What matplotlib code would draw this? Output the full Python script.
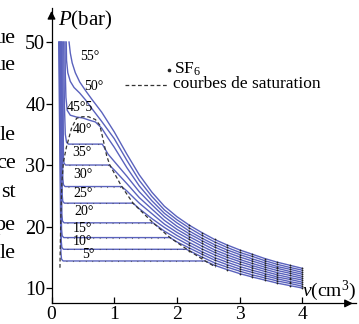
import numpy as np
import matplotlib
matplotlib.use("Agg")
import matplotlib.pyplot as plt

plt.rcParams["font.family"] = ["Liberation Serif", "DejaVu Serif"]
plt.rcParams["mathtext.fontset"] = "custom"
plt.rcParams["mathtext.rm"] = "Liberation Serif"
plt.rcParams["mathtext.it"] = "Liberation Serif:italic"

# SF6 isotherms: v in cm3, P in bar
V05 = [0.115, 0.150, 0.160, 0.185, 2.45, 2.6, 2.8, 3.0, 3.2, 3.4, 3.6, 3.8, 4.0]
P05 = [50, 15.8, 14.7, 14.4, 14.4, 13.7, 13.0, 12.35, 11.8, 11.3, 10.8, 10.4, 10.0]

V10 = [0.125, 0.155, 0.165, 0.19, 2.15, 2.2, 2.4, 2.6, 2.8, 3.0, 3.2, 3.4, 3.6, 3.8, 4.0]
P10 = [50, 17.7, 16.6, 16.3, 16.3, 16.05, 15.05, 14.1, 13.4, 12.75, 12.15, 11.65, 11.15, 10.75, 10.3]

V15 = [0.135, 0.16, 0.17, 0.195, 1.89, 2.0, 2.2, 2.4, 2.6, 2.8, 3.0, 3.2, 3.4, 3.6, 3.8, 4.0]
P15 = [50, 19.6, 18.5, 18.2, 18.2, 17.5, 16.5, 15.5, 14.55, 13.8, 13.1, 12.55, 12.0, 11.5, 11.05, 10.65]

V20 = [0.145, 0.165, 0.175, 0.2, 1.62, 1.8, 2.0, 2.2, 2.4, 2.6, 2.8, 3.0, 3.2, 3.4, 3.6, 3.8, 4.0]
P20 = [50, 22.0, 20.9, 20.6, 20.6, 19.25, 18.05, 16.95, 15.9, 14.95, 14.2, 13.5, 12.9, 12.35, 11.8, 11.4, 10.95]

V25 = [0.155, 0.17, 0.18, 0.205, 1.30, 1.4, 1.6, 1.8, 2.0, 2.2, 2.4, 2.6, 2.8, 3.0, 3.2, 3.4, 3.6, 3.8, 4.0]
P25 = [50, 25.2, 24.1, 23.8, 23.8, 22.9, 21.3, 19.85, 18.55, 17.4, 16.35, 15.4, 14.6, 13.9, 13.3, 12.7, 12.15, 11.7, 11.3]

V30 = [0.165, 0.18, 0.19, 0.215, 1.12, 1.2, 1.4, 1.6, 1.8, 2.0, 2.2, 2.4, 2.6, 2.8, 3.0, 3.2, 3.4, 3.6, 3.8, 4.0]
P30 = [50, 27.9, 26.8, 26.5, 26.5, 25.8, 23.8, 22.1, 20.4, 19.05, 17.9, 16.8, 15.8, 15.0, 14.3, 13.65, 13.05, 12.5, 12.05, 11.6]

V35 = [0.18, 0.19, 0.2, 0.225, 0.92, 1.0, 1.2, 1.4, 1.6, 1.8, 2.0, 2.2, 2.4, 2.6, 2.8, 3.0, 3.2, 3.4, 3.6, 3.8, 4.0]
P35 = [50, 31.4, 30.3, 30.0, 30.0, 29.2, 27.0, 24.7, 22.85, 21.0, 19.55, 18.35, 17.25, 16.2, 15.4, 14.65, 14.0, 13.4, 12.85, 12.4, 11.9]

V40 = [0.195, 0.205, 0.22, 0.24, 0.27, 0.81, 0.9, 1.0, 1.2, 1.4, 1.6, 1.8, 2.0, 2.2, 2.4, 2.6, 2.8, 3.0, 3.2, 3.4, 3.6, 3.8, 4.0]
P40 = [50, 40.0, 35.0, 33.7, 33.4, 33.4, 31.8, 30.6, 28.2, 25.65, 23.55, 21.6, 20.05, 18.8, 17.7, 16.65, 15.8, 15.05, 14.4, 13.75, 13.2, 12.7, 12.25]

V45 = [0.215, 0.22, 0.23, 0.25, 0.30, 0.40, 0.50, 0.60, 0.70, 0.80, 0.90, 1.0, 1.2, 1.4, 1.6, 1.8, 2.0, 2.2, 2.4, 2.6, 2.8, 3.0, 3.2, 3.4, 3.6, 3.8, 4.0]
P45 = [50, 45.0, 41.0, 38.9, 38.1, 37.8, 37.65, 37.3, 37.0, 36.0, 34.4, 32.9, 29.6, 26.6, 24.2, 22.15, 20.6, 19.25, 18.1, 17.05, 16.2, 15.45, 14.75, 14.1, 13.5, 13.05, 12.55]

V50 = [0.235, 0.24, 0.26, 0.30, 0.36, 0.45, 0.55, 0.65, 0.8, 0.9, 1.0, 1.2, 1.4, 1.6, 1.8, 2.0, 2.2, 2.4, 2.6, 2.8, 3.0, 3.2, 3.4, 3.6, 3.8, 4.0]
P50 = [50, 47.0, 45.0, 43.6, 42.6, 41.7, 40.5, 39.1, 37.1, 35.7, 34.3, 30.8, 27.5, 24.9, 22.7, 21.1, 19.75, 18.55, 17.5, 16.6, 15.8, 15.15, 14.45, 13.85, 13.35, 12.9]

V55 = [0.28, 0.30, 0.33, 0.38, 0.45, 0.55, 0.65, 0.8, 0.9, 1.0, 1.2, 1.4, 1.6, 1.8, 2.0, 2.2, 2.4, 2.6, 2.8, 3.0, 3.2, 3.4, 3.6, 3.8, 4.0]
P55 = [50, 48.2, 46.6, 45.0, 43.5, 42.0, 40.6, 38.6, 37.0, 35.4, 31.8, 28.4, 25.6, 23.3, 21.6, 20.2, 19.0, 17.9, 17.0, 16.2, 15.5, 14.8, 14.2, 13.7, 13.2]

# saturation dome (dashed)
DOME_V = [0.135, 0.14, 0.15, 0.165, 0.19, 0.24, 0.32, 0.40, 0.49, 0.59, 0.70, 0.77, 0.82,
          0.88, 0.93, 1.12, 1.30, 1.62, 1.89, 2.16, 2.45, 2.62]
DOME_P = [13.3, 17.0, 22.0, 27.0, 30.5, 33.0, 36.0, 37.6, 37.85, 37.85, 37.4, 36.5, 34.3,
          31.5, 30.0, 26.5, 23.8, 20.6, 18.2, 16.3, 14.4, 13.4]

LABELS = ["5°", "10°", "15°", "20°", "25°", "30°", "35°", "40°", "45°5", "50°", "55°"]

ISOTHERMS = [(V05, P05), (V10, P10), (V15, P15), (V20, P20), (V25, P25), (V30, P30),
             (V35, P35), (V40, P40), (V45, P45), (V50, P50), (V55, P55)]

BLUE = "#5a62bd"

fig = plt.figure(figsize=(3.59, 3.24), dpi=100)
ax = fig.add_axes([51.5 / 359, (324 - 303.4) / 324, 304.1 / 359, 295.2 / 324])
ax.set_xlim(0, 4.85)
ax.set_ylim(7.5, 55.5)

for v, p in ISOTHERMS:
    v = np.asarray(v)
    p = np.asarray(p)
    ax.plot(v, p, color=BLUE, lw=1.0, solid_joinstyle="round", zorder=2)
    # dots at the measured points
    on_grid = np.isclose(np.round(v * 5), v * 5) & (v >= 2.19)
    ax.plot(v[on_grid], p[on_grid], "o", ms=1.3, mfc="#222222", mec="none", zorder=3)
    # plateau dots
    for i in range(len(v) - 1):
        if p[i] == p[i + 1] and v[i + 1] - v[i] > 0.3:
            ax.plot([v[i] + 0.05, v[i + 1]], [p[i], p[i]], color="#333333",
                    lw=0.8, ls=(0, (0.8, 5)), alpha=0.7, zorder=3)

ax.plot(DOME_V, DOME_P, color="#333333", lw=0.9, ls=(0, (3, 2)), zorder=3)

# isotherm labels
lab_v = [0.58, 0.50, 0.50, 0.52, 0.50, 0.50, 0.49, 0.49, 0.45, 0.68, 0.61]
lab_p = [15.4, 17.5, 19.6, 22.4, 25.3, 28.4, 32.0, 35.7, 39.3, 42.7, 47.7]
for txt, x, y in zip(LABELS, lab_v, lab_p):
    ax.text(x, y, txt, fontsize=10, ha="center", va="center", zorder=4)

# axes styling
for s in ["top", "right"]:
    ax.spines[s].set_visible(False)
for s in ["left", "bottom"]:
    ax.spines[s].set_linewidth(0.9)
ax.set_xticks([0, 1, 2, 3, 4])
ax.set_yticks([10, 20, 30, 40, 50])
ax.tick_params(axis="x", direction="in", length=4, width=0.9, pad=2, labelsize=14)
ax.tick_params(axis="y", direction="out", length=4, width=0.9, pad=0.5, labelsize=14.5)

ax.annotate("", xy=(1.0, 0), xytext=(0.96, 0), xycoords="axes fraction",
            arrowprops=dict(arrowstyle="-|>", color="k", lw=0.9, mutation_scale=12))
ax.annotate("", xy=(0, 1.0), xytext=(0, 0.96), xycoords="axes fraction",
            arrowprops=dict(arrowstyle="-|>", color="k", lw=0.9, mutation_scale=12))

ax.text(0.021, 0.94, r"$P$(bar)", transform=ax.transAxes, fontsize=15, va="baseline")
ax.text(0.824, 0.025, r"$v$(cm$^3$)", transform=ax.transAxes, fontsize=14, va="baseline")

# legend
ax.plot([0.386], [0.792], "o", ms=1.6, color="#222222", transform=ax.transAxes, clip_on=False)
ax.text(0.403, 0.779, r"SF$_6$", transform=ax.transAxes, fontsize=12.5, va="baseline")
ax.plot([0.242, 0.380], [0.7415, 0.7415], color="#333333", lw=0.9, ls=(0, (3, 2)),
        transform=ax.transAxes)
ax.text(0.3995, 0.728, "courbes de saturation", transform=ax.transAxes, fontsize=12.5,
        va="baseline")

# fragments of the surrounding page text
frag = ["ue", "ue", "le", "ce", "st", "pe", "le"]
frag_y = [43, 70, 140, 168, 197, 230, 258]
for t, y in zip(frag, frag_y):
    fig.text(16 / 359, 1 - y / 324, t, fontsize=16, ha="right", va="baseline")

fig.savefig("out.png", dpi=100)
